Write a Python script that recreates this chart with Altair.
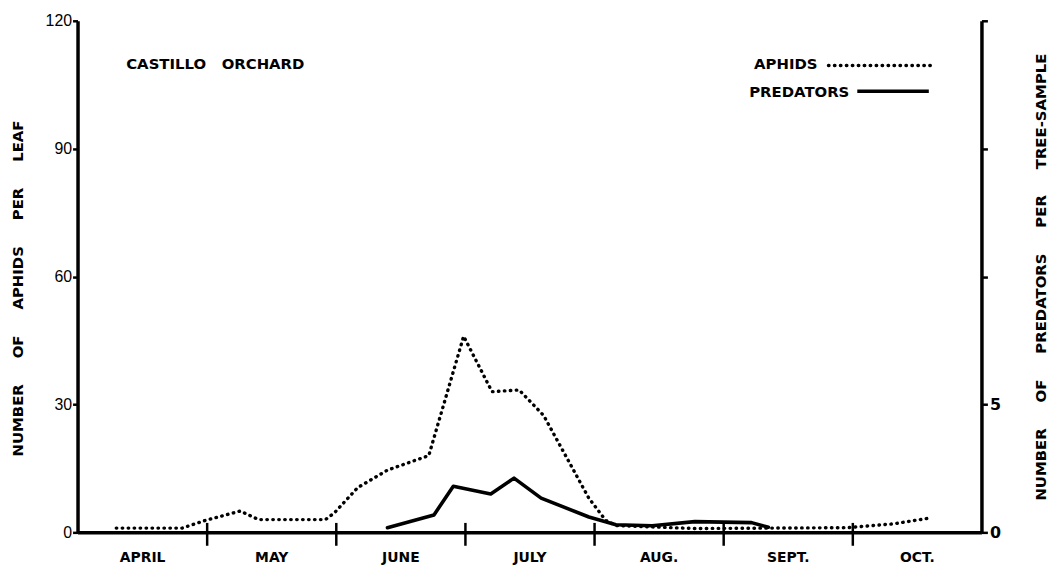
import altair as alt
import pandas as pd

# x in "months since April 1" (0 = Apr 1, 7 = Oct 31)
months = ["APRIL", "MAY", "JUNE", "JULY", "AUG.", "SEPT.", "OCT."]
month_bounds = [1, 2, 3, 4, 5, 6]

aphid_t = [0.30, 0.81, 0.99, 1.26, 1.40, 1.92, 1.99, 2.17, 2.40, 2.72, 2.99,
           3.21, 3.42, 3.61, 3.96, 4.09, 4.17, 4.78, 5.96, 6.32, 6.61]
aphid_v = [1.0, 1.0, 2.8, 5.0, 3.0, 3.0, 4.6, 10.5, 14.6, 18.0, 46.0,
           33.0, 33.4, 27.4, 8.0, 2.8, 1.6, 0.9, 1.1, 2.0, 3.4]

pred_t = [2.40, 2.76, 2.91, 3.20, 3.38, 3.59, 3.96, 4.17, 4.45, 4.78, 5.22, 5.35]
pred_v = [0.18, 0.68, 1.8, 1.5, 2.12, 1.34, 0.6, 0.3, 0.26, 0.42, 0.38, 0.2]

aphids = pd.DataFrame({"t": aphid_t, "v": aphid_v})
preds = pd.DataFrame({"t": pred_t, "p": pred_v})

W, H = 910, 515
month_px = W / 7
SP = "\u00a0" * 5

xscale = alt.Scale(domain=[0, 7], nice=False, zero=False)
xaxis = alt.Axis(
    orient="bottom",
    values=list(range(7)),
    labelExpr="['APRIL','MAY','JUNE','JULY','AUG.','SEPT.','OCT.'][datum.value]",
    labelOffset=month_px / 2,
    labelPadding=5,
    labelFont="DejaVu Sans", labelFontWeight="bold", labelFontSize=14,
    labelColor="black",
    tickSize=13, tickWidth=2.5, tickColor="black",
    tickOpacity={"condition": {"test": "datum.value === 0", "value": 0}, "value": 1},
    domainWidth=3.5, domainColor="black",
    grid=False, title=None, labelFlush=False,
)
# inner half of the month tick marks (crossing the axis line)
xaxis_inner = alt.Axis(
    orient="bottom", values=month_bounds, offset=-10, tickSize=10,
    tickWidth=2.5, tickColor="black", domain=False, labels=False,
    grid=False, title=None,
)

aphid_line = alt.Chart(aphids).mark_line(
    color="black", strokeWidth=3.4, strokeDash=[0.5, 5.5], strokeCap="round"
).encode(
    x=alt.X("t:Q", scale=xscale, axis=xaxis),
    y=alt.Y("v:Q", scale=alt.Scale(domain=[0, 120], nice=False),
            axis=alt.Axis(
                orient="left", values=[0, 30, 60, 90, 120],
                tickSize=5, tickWidth=2.5, tickColor="black",
                domainWidth=3.5, domainColor="black",
                labelFont="Liberation Sans", labelFontSize=16, labelColor="black",
                labelPadding=1, grid=False,
                title=f"NUMBER{SP}OF{SP}APHIDS{SP}PER{SP}LEAF",
                titleFont="DejaVu Sans", titleFontWeight="bold", titleFontSize=15,
                titleColor="black", titlePadding=20, titleY=269,
            )),
)

pred_line = alt.Chart(preds).mark_line(
    color="black", strokeWidth=3.6, strokeCap="round", strokeJoin="round"
).encode(
    x=alt.X("t:Q", scale=xscale, axis=xaxis_inner),
    y=alt.Y("p:Q", scale=alt.Scale(domain=[0, 20], nice=False),
            axis=alt.Axis(
                orient="right", values=[0, 5, 10, 15, 20],
                labelExpr="datum.value <= 5 ? datum.label : ''",
                tickSize=6, tickWidth=2.5, tickColor="black",
                domainWidth=3.5, domainColor="black",
                labelFont="DejaVu Sans", labelFontWeight="bold", labelFontSize=16,
                labelColor="black", labelPadding=2, grid=False,
                title=f"NUMBER{SP}OF{SP}PREDATORS{SP}PER{SP}TREE-SAMPLE",
                titleFont="DejaVu Sans", titleFontWeight="bold", titleFontSize=15,
                titleColor="black", titlePadding=48, titleAngle=270,
            )),
)

title_text = alt.Chart(pd.DataFrame({"s": ["CASTILLO\u00a0\u00a0\u00a0ORCHARD"]})).mark_text(
    align="left", baseline="middle", font="DejaVu Sans", fontWeight="bold",
    fontSize=15, color="black"
).encode(text="s:N", x=alt.value(49), y=alt.value(44))

leg_text = alt.Chart(pd.DataFrame({"s": ["APHIDS", "PREDATORS"],
                                   "xx": [745, 777], "yy": [44, 72]})).mark_text(
    align="right", baseline="middle", font="DejaVu Sans", fontWeight="bold",
    fontSize=15, color="black"
).encode(text="s:N", x=alt.X("xx:Q", scale=None), y=alt.Y("yy:Q", scale=None))

leg_aph = alt.Chart(pd.DataFrame({"k": [0]})).mark_rule(
    color="black", strokeWidth=3.4, strokeDash=[0.5, 5.5], strokeCap="round"
).encode(x=alt.value(756), x2=alt.value(864), y=alt.value(45))

leg_pred = alt.Chart(pd.DataFrame({"k": [0]})).mark_rule(
    color="black", strokeWidth=3.6
).encode(x=alt.value(785), x2=alt.value(857), y=alt.value(71))

chart = alt.layer(
    aphid_line, pred_line, title_text, leg_text, leg_aph, leg_pred
).resolve_scale(y="independent").resolve_axis(x="independent").properties(
    width=W, height=H,
    autosize=alt.AutoSizeParams(type="none"),
    padding={"left": 70, "top": 11, "right": 68, "bottom": 34},
).configure(background="white", view={"stroke": None})

chart.save("out.html", embed_options={"renderer": "svg", "actions": False})
